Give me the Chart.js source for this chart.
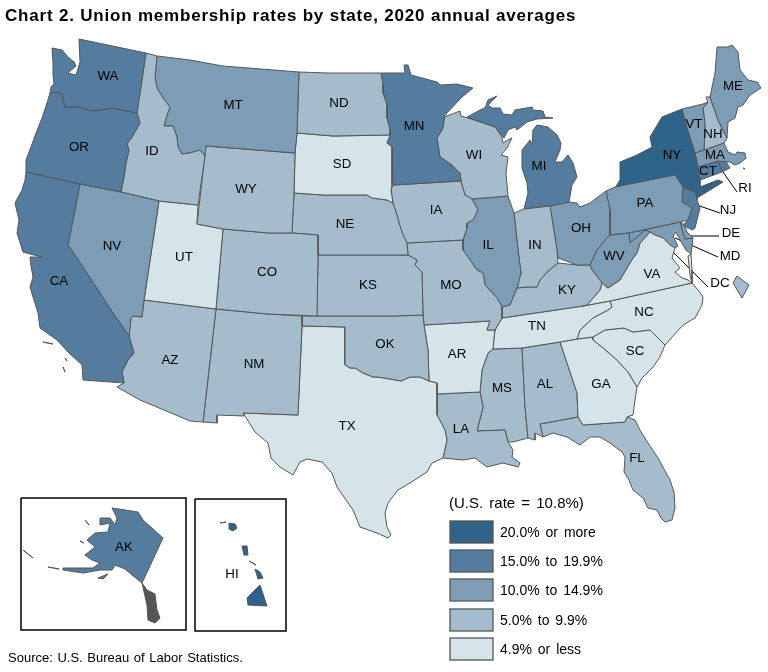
<!DOCTYPE html>
<html>
<head>
<meta charset="utf-8">
<title>Union membership rates by state</title>
<script src="https://cdn.jsdelivr.net/npm/chart.js@4"></script>
<style>
  html, body { margin: 0; padding: 0; background: #fff; }
  canvas { display: block; }
</style>
</head>
<body>
<canvas id="map" width="768" height="672"></canvas>
<script>
const titleText = "Chart 2. Union membership rates by state, 2020 annual averages";
const sourceText = "Source: U.S. Bureau of Labor Statistics.";
const legendTitle = "(U.S. rate = 10.8%)";
const rateBins = ["20.0% or more", "15.0% to 19.9%", "10.0% to 14.9%", "5.0% to 9.9%", "4.9% or less"];
const binColors = ["#2f6389", "#547c9f", "#7d9db6", "#a5bccd", "#d4e4e9"];

// rate class of each state (index into rateBins)
const stateBins = {
  WA: 1, OR: 1, CA: 1, NV: 2, ID: 3, MT: 2, WY: 3, UT: 4, AZ: 3, NM: 3, CO: 3, ND: 3, SD: 4, NE: 3, KS: 3,
  OK: 3, TX: 4, MN: 1, IA: 3, MO: 3, AR: 4, LA: 3, WI: 3, IL: 2, MI: 1, IN: 3, OH: 2, KY: 3, TN: 4, MS: 3,
  AL: 3, GA: 4, SC: 4, NC: 4, VA: 4, WV: 2, PA: 2, NY: 0, FL: 3, ME: 2, VT: 2, NH: 3, MA: 2, CT: 1, RI: 1,
  NJ: 1, DE: 2, MD: 2, DC: 3, AK: 1, HI: 0
};

// state outlines in map units (1 unit = 1 px of the 768x672 map)
const stateOutlines = {
  WA: [[79,39],[146,53],[137,113],[112,108],[93,111],[78,107],[65,107],[63,100],[62,94],[57,92],[50,93],[51,87],[54,84],[53,75],[53,63],[52,48],[62,50],[68,57],[74,62],[76,66],[68,73],[76,75],[80,62]],
  OR: [[50,93],[57,92],[62,94],[63,100],[65,107],[78,107],[93,111],[112,108],[137,113],[140,123],[132,137],[127,144],[129,150],[126,163],[124,177],[121,192],[80,184],[26,172],[26,160],[31,147],[36,133],[42,118],[47,103]],
  CA: [[26,172],[80,184],[68,245],[77,258],[113,313],[129,336],[134,353],[128,360],[122,372],[124,383],[83,380],[82,365],[68,352],[57,340],[40,328],[38,313],[33,297],[30,287],[33,277],[31,266],[30,257],[42,257],[30,254],[23,252],[17,233],[19,220],[15,203],[22,190],[25,180]],
  NV: [[80,184],[121,192],[159,201],[144,300],[142,317],[133,316],[131,318],[129,336],[113,313],[77,258],[68,245]],
  ID: [[146,53],[157,56],[155,77],[157,88],[163,98],[170,107],[167,115],[164,126],[173,126],[177,137],[178,147],[182,154],[190,153],[200,150],[205,156],[198,205],[159,201],[121,192],[124,177],[126,163],[129,150],[127,144],[132,137],[140,123],[137,113]],
  MT: [[157,56],[190,60],[223,66],[299,72],[297,133],[295,153],[206,146],[205,156],[200,150],[190,153],[182,154],[178,147],[177,137],[173,126],[164,126],[167,115],[170,107],[163,98],[157,88],[155,77]],
  WY: [[206,146],[295,153],[294,193],[292,233],[269,233],[223,229],[197,224]],
  UT: [[159,201],[198,205],[197,224],[223,229],[216,309],[144,300]],
  CO: [[223,229],[269,233],[292,233],[318,235],[318,255],[317,316],[268,314],[216,309]],
  AZ: [[144,300],[216,309],[203,422],[190,421],[140,400],[117,387],[124,383],[122,372],[128,360],[134,353],[129,336],[131,318],[133,316],[142,317]],
  NM: [[216,309],[268,314],[302,316],[302,326],[298,415],[243,413],[244,416],[217,415],[217,423],[203,422]],
  ND: [[299,72],[327,73],[381,73],[383,85],[383,93],[387,105],[387,118],[390,130],[390,135],[333,136],[297,133]],
  SD: [[297,133],[333,136],[390,135],[387,143],[392,147],[392,185],[391,190],[393,203],[387,200],[372,198],[367,195],[323,195],[294,193],[295,153]],
  NE: [[294,193],[323,195],[367,195],[372,198],[387,200],[393,203],[397,215],[399,223],[403,235],[407,243],[408,255],[318,255],[318,235],[292,233]],
  KS: [[318,255],[408,255],[417,260],[415,265],[422,272],[423,315],[394,316],[317,316]],
  OK: [[302,316],[317,316],[394,316],[423,315],[424,325],[428,350],[429,381],[420,377],[410,377],[401,381],[390,379],[378,377],[373,377],[363,373],[355,368],[350,368],[345,365],[345,327],[302,326]],
  TX: [[302,326],[345,327],[345,365],[350,368],[355,368],[363,373],[373,377],[378,377],[390,379],[401,381],[410,377],[420,377],[429,381],[437,383],[437,394],[437,415],[445,430],[447,440],[443,458],[432,463],[427,472],[413,481],[398,490],[388,503],[385,513],[387,527],[391,535],[388,538],[377,533],[360,527],[353,510],[337,487],[332,473],[322,462],[307,459],[300,462],[293,475],[280,467],[271,458],[268,443],[255,432],[243,413],[298,415]],
  MN: [[381,73],[405,73],[404,65],[408,65],[411,75],[437,82],[440,85],[457,84],[473,88],[462,97],[445,115],[443,128],[437,138],[440,157],[452,165],[460,173],[461,181],[393,185],[392,147],[387,143],[390,135],[390,130],[387,118],[387,105],[383,93],[383,85]],
  IA: [[393,185],[461,181],[462,185],[465,195],[472,199],[478,210],[473,220],[467,223],[467,228],[463,240],[407,243],[403,235],[399,223],[397,215],[393,203],[391,190]],
  MO: [[407,243],[463,240],[463,250],[477,270],[483,273],[485,285],[497,298],[502,307],[502,318],[498,325],[495,330],[487,330],[490,321],[424,325],[423,315],[422,272],[415,265],[417,260],[408,255]],
  AR: [[424,325],[490,321],[487,330],[495,330],[494,338],[493,349],[488,353],[482,370],[480,392],[437,394],[437,383],[429,381],[428,350]],
  LA: [[437,394],[480,392],[483,407],[477,431],[505,430],[508,442],[513,450],[512,457],[520,463],[518,467],[503,463],[487,467],[475,458],[463,460],[443,458],[447,440],[445,430],[437,415]],
  WI: [[444,117],[460,111],[461,116],[468,118],[495,127],[502,137],[503,143],[508,140],[512,138],[507,148],[501,155],[508,157],[506,173],[508,196],[472,199],[465,195],[462,185],[461,181],[460,173],[452,165],[440,157],[437,138],[443,128]],
  IL: [[472,199],[508,196],[514,213],[518,250],[521,273],[517,288],[512,300],[510,305],[502,307],[497,298],[485,285],[483,273],[477,270],[463,250],[463,240],[467,228],[467,223],[473,220],[478,210]],
  IN: [[514,213],[524,209],[550,206],[557,250],[558,263],[547,272],[540,280],[537,287],[527,287],[517,288],[521,273],[518,250]],
  MI: [[467,117],[480,110],[485,108],[488,100],[497,96],[488,105],[492,108],[500,108],[503,114],[512,115],[515,110],[532,107],[533,110],[543,111],[545,117],[553,118],[537,119],[527,122],[517,130],[515,127],[508,130],[504,138],[495,127]],
  MI_lower: [[537,125],[548,127],[557,135],[561,143],[560,150],[555,162],[562,162],[568,155],[573,163],[577,177],[572,185],[569,202],[550,206],[524,209],[528,193],[527,183],[522,168],[522,150],[530,140],[532,145],[533,130]],
  OH: [[550,206],[569,202],[577,203],[580,207],[590,203],[606,191],[610,210],[610,235],[605,240],[597,250],[590,265],[577,265],[558,258],[557,250]],
  KY: [[502,318],[502,307],[510,305],[512,300],[517,288],[527,287],[537,287],[540,280],[547,272],[558,263],[577,265],[590,265],[592,270],[602,283],[600,290],[587,305],[583,306]],
  WV: [[610,235],[620,234],[629,233],[630,243],[645,230],[650,232],[640,243],[637,253],[633,258],[627,268],[620,280],[608,288],[602,283],[592,270],[590,265],[597,250],[605,240]],
  VA: [[587,305],[600,290],[602,283],[608,288],[620,280],[627,268],[633,258],[637,253],[640,243],[650,232],[655,235],[663,238],[670,245],[675,248],[672,258],[680,268],[675,272],[682,278],[688,280],[692,283],[610,301],[583,306]],
  TN: [[502,318],[583,306],[610,301],[612,307],[608,310],[593,318],[580,330],[577,339],[560,342],[522,348],[493,349],[494,338],[495,330],[498,325]],
  NC: [[610,301],[692,283],[698,290],[703,297],[702,305],[695,318],[683,325],[665,345],[650,330],[633,332],[624,328],[605,330],[593,337],[577,339],[580,330],[593,318],[608,310],[612,307]],
  SC: [[593,337],[605,330],[624,328],[633,332],[650,330],[665,345],[660,357],[653,367],[642,378],[637,387],[628,372],[617,360],[602,347],[593,340]],
  GA: [[560,342],[577,339],[593,337],[593,340],[602,347],[617,360],[628,372],[637,387],[635,400],[633,415],[627,417],[625,422],[583,425],[578,417],[577,393],[572,378]],
  AL: [[522,348],[560,342],[572,378],[577,393],[578,417],[540,424],[543,437],[535,433],[535,440],[528,438],[525,407]],
  MS: [[493,349],[522,348],[525,407],[528,438],[513,442],[508,442],[505,430],[477,431],[483,407],[480,392],[482,370],[488,353]],
  FL: [[540,424],[578,417],[583,425],[625,422],[627,417],[635,420],[640,430],[648,443],[658,458],[670,480],[674,492],[675,508],[672,520],[665,522],[661,518],[657,510],[648,508],[643,498],[633,490],[628,478],[624,472],[625,457],[622,452],[610,443],[600,437],[590,437],[580,445],[567,437],[553,433],[543,437]],
  PA: [[606,191],[615,187],[675,175],[683,187],[682,202],[692,208],[688,220],[680,222],[629,233],[610,235],[610,210]],
  NY: [[615,188],[620,180],[620,162],[637,155],[652,147],[650,137],[662,117],[682,109],[687,128],[695,153],[698,167],[700,180],[700,187],[718,180],[723,182],[697,198],[695,192],[683,187],[675,175]],
  NJ: [[683,187],[697,193],[697,200],[700,208],[695,228],[692,230],[683,225],[688,220],[692,208],[682,202]],
  DE: [[681,222],[685,226],[687,232],[693,238],[685,239],[682,230]],
  MD: [[629,233],[680,222],[685,239],[693,238],[691,254],[686,250],[680,240],[676,232],[673,236],[678,246],[675,248],[670,245],[663,238],[655,235],[650,232],[645,230],[630,243]],
  ME: [[717,47],[728,47],[732,45],[738,52],[740,70],[748,80],[757,82],[761,88],[750,95],[743,105],[738,107],[735,118],[728,122],[727,138],[718,120],[710,97],[715,73]],
  VT: [[682,109],[703,104],[708,102],[703,108],[705,125],[704,150],[695,153],[687,128]],
  NH: [[706,97],[710,97],[718,120],[727,138],[724,143],[704,150],[705,125],[703,108],[708,102]],
  MA: [[695,153],[704,150],[724,143],[728,152],[735,155],[737,152],[745,153],[746,158],[740,163],[735,165],[730,162],[718,161],[698,167]],
  CT: [[698,167],[718,161],[722,172],[700,180]],
  RI: [[718,161],[725,160],[730,168],[722,172]],
  DC: [[737,276],[749,285],[742,298],[733,283]],
  AK: [[112,508],[138,512],[143,520],[163,538],[142,583],[132,575],[125,569],[115,565],[112,570],[100,570],[83,573],[63,570],[63,568],[80,568],[93,568],[100,563],[92,560],[85,555],[95,547],[87,540],[95,533],[108,532],[110,523],[100,525],[100,518],[110,518],[115,525],[117,518]],
  HI: [[260,585],[267,606],[248,605],[247,598],[255,590]]
};

// smaller pieces that go with a state
const islandOutlines = [
  ["AK", [[98,578],[108,574],[103,579]]],
  ["AK", [[48,567],[59,569]]],
  ["AK", [[23,550],[33,558]]],
  ["AK", [[85,520],[89,525]]],
  ["AK", [[80,541],[84,543]]],
  ["HI", [[229,523],[235,524],[237,528],[233,531],[229,529]]],
  ["HI", [[220,523],[226,522]]],
  ["HI", [[242,546],[247,546],[248,555],[244,555]]],
  ["HI", [[249,561],[256,565]]],
  ["HI", [[255,569],[260,572],[263,578],[258,579]]],
  ["CA", [[43,342],[53,344]]],
  ["CA", [[65,358],[67,361]]],
  ["CA", [[63,367],[65,372]]],
  ["MA", [[743,168],[745,169]]],
  ["VA", [[688,256],[691,254],[692,270],[692,283],[690,275]]]
];

// the panhandle islands read as a solid outline colour
const panhandleOutline = [[142,583],[147,590],[155,594],[157,610],[160,618],[155,623],[148,620],[147,605]];

// bays and sounds that cut into the land
const waterOutlines = [
  [[694,288],[699,296],[700,304],[694,310],[687,306],[694,301],[687,295]],
  [[497,443],[505,441],[509,446],[502,449]]
];

const stateLabels = {
  WA: [108,76], OR: [79,147], CA: [59,281], NV: [112,246], ID: [152,151], MT: [233,105], WY: [246,189], UT: [184,257],
  AZ: [170,360], NM: [254,364], CO: [267,272], ND: [339,103], SD: [342,164], NE: [345,224], KS: [368,285], OK: [385,344],
  TX: [347,426], MN: [414,126], IA: [436,210], MO: [451,285], AR: [457,354], LA: [461,429], WI: [474,155], IL: [488,245],
  MI: [539,166], IN: [535,245], OH: [581,228], KY: [567,290], TN: [537,326], MS: [502,388], AL: [545,384], GA: [601,384],
  SC: [635,351], NC: [644,312], VA: [652,274], WV: [614,256], PA: [645,203], NY: [672,155], FL: [637,458], ME: [733,86],
  VT: [694,124], NH: [713,134], MA: [715,155], CT: [708,171], RI: [745,188], NJ: [728,210], DE: [731,233], MD: [730,256],
  DC: [720,283], AK: [124,547], HI: [232,574]
};

const leaderLines = [
  [[723,172],[737,192]],
  [[688,202],[720,213]],
  [[688,236],[719,236]],
  [[675,238],[718,257]],
  [[663,242],[708,287]]
];

const insetBoxes = [
  [[21,498],[186,498],[186,630],[21,630],[21,498]],
  [[195,499],[286,499],[286,631],[195,631],[195,499]]
];

const legendRows = [532, 561, 590, 620, 649];

function toPoints(coords) {
  return coords.map(([x, y]) => ({ x, y }));
}

function polygon(coords, fillColor) {
  return {
    data: toPoints(coords.concat([coords[0]])),
    showLine: true,
    fill: "shape",
    backgroundColor: fillColor,
    borderColor: "#555555",
    borderWidth: 1,
    pointRadius: 0,
    tension: 0
  };
}

function plainLine(coords, color, width) {
  return {
    data: toPoints(coords),
    showLine: true,
    fill: false,
    borderColor: color,
    borderWidth: width,
    pointRadius: 0,
    tension: 0
  };
}

const datasets = [];
Object.keys(stateOutlines).forEach((key) => {
  const code = key.split("_")[0];
  datasets.push(polygon(stateOutlines[key], binColors[stateBins[code]]));
});
islandOutlines.forEach(([code, coords]) => {
  datasets.push(polygon(coords, binColors[stateBins[code]]));
});
datasets.push(polygon(panhandleOutline, "#555555"));
waterOutlines.forEach((coords) => datasets.push(polygon(coords, "#ffffff")));
leaderLines.forEach((coords) => datasets.push(plainLine(coords, "#000000", 1)));
insetBoxes.forEach((coords) => datasets.push(plainLine(coords, "#000000", 1.5)));

// Text and legend keys
const mapText = {
  id: "mapText",
  afterDatasetsDraw(chart) {
    const ctx = chart.ctx;
    const sx = chart.scales.x;
    const sy = chart.scales.y;
    const px = (x) => sx.getPixelForValue(x);
    const py = (y) => sy.getPixelForValue(y);
    ctx.save();
    ctx.fillStyle = "#000";
    ctx.textBaseline = "middle";

    ctx.font = "bold 17px 'Liberation Sans'";
    ctx.textAlign = "left";
    ctx.letterSpacing = "0.8px";
    ctx.fillText(titleText, px(5), py(16));
    ctx.letterSpacing = "0px";

    ctx.font = "13px 'Liberation Sans'";
    ctx.wordSpacing = "1px";
    ctx.fillText(sourceText, px(8), py(658));
    ctx.wordSpacing = "0px";

    ctx.font = "13.33px 'Liberation Sans'";
    ctx.textAlign = "center";
    Object.keys(stateLabels).forEach((code) => {
      const [x, y] = stateLabels[code];
      ctx.fillText(code, px(x), py(y));
    });

    ctx.textAlign = "left";
    ctx.font = "15px 'Liberation Sans'";
    ctx.wordSpacing = "2px";
    ctx.fillText(legendTitle, px(449), py(504));
    ctx.font = "14px 'Liberation Sans'";
    ctx.wordSpacing = "2px";
    rateBins.forEach((label, i) => {
      const mid = legendRows[i];
      ctx.fillStyle = binColors[i];
      ctx.fillRect(px(450), py(mid - 11), 43, 22);
      ctx.strokeStyle = "#555555";
      ctx.lineWidth = 1.3;
      ctx.strokeRect(px(450), py(mid - 11), 43, 22);
      ctx.fillStyle = "#000";
      ctx.fillText(label, px(500), py(mid + 1));
    });
    ctx.restore();
  }
};

new Chart(document.getElementById("map"), {
  type: "scatter",
  data: { datasets },
  options: {
    responsive: false,
    animation: false,
    devicePixelRatio: 1,
    layout: { padding: 0 },
    clip: false,
    scales: {
      x: { type: "linear", min: 0, max: 768, display: false },
      y: { type: "linear", min: 0, max: 672, reverse: true, display: false }
    },
    plugins: {
      legend: { display: false },
      title: { display: false },
      tooltip: { enabled: false }
    }
  },
  plugins: [mapText]
});
</script>
</body>
</html>
